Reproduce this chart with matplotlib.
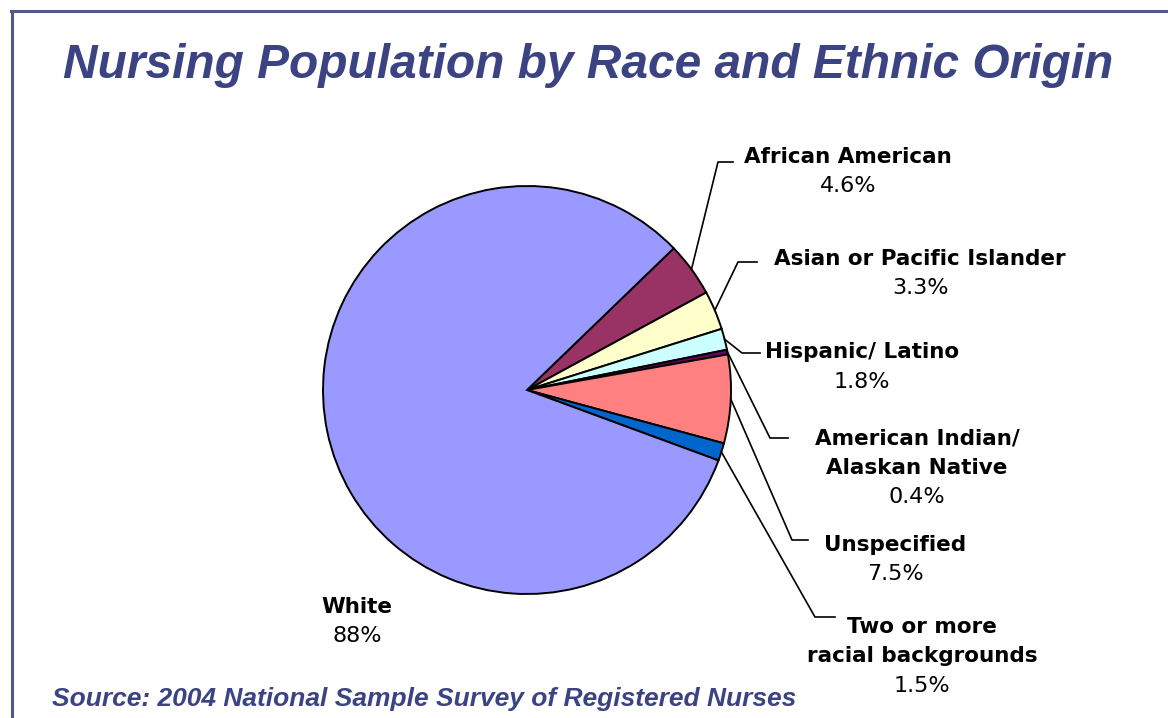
import numpy as np
import matplotlib
matplotlib.use("Agg")
import matplotlib.pyplot as plt
from matplotlib.lines import Line2D

# slices, clockwise from the top of the African American wedge
groups = ["African American", "Asian or Pacific Islander", "Hispanic/ Latino",
          "American Indian/\nAlaskan Native", "Unspecified",
          "Two or more\nracial backgrounds", "White"]
shares = [4.6, 3.3, 1.8, 0.4, 7.5, 1.5, 88]
share_text = ["4.6%", "3.3%", "1.8%", "0.4%", "7.5%", "1.5%", "88%"]
colors = ["#993366", "#FFFFCC", "#CCFFFF", "#660066", "#FF8080", "#0066CC", "#9999FF"]

W, H = 1168, 718
fig = plt.figure(figsize=(W / 100, H / 100), dpi=100)
fig.patch.set_facecolor("white")

# one axes over the whole canvas, units = pixels (y up)
ax = fig.add_axes([0, 0, 1, 1])
cx, cy, r = 527, H - 390, 204
wedges, _ = ax.pie(shares, colors=colors, startangle=44, counterclock=False,
                   center=(cx, cy), radius=r, frame=True,
                   wedgeprops=dict(edgecolor="black", linewidth=1.4))
ax.set_xlim(0, W)
ax.set_ylim(0, H)
ax.set_aspect("equal")
ax.axis("off")

# label anchor (text centre of first line), elbow point, end of leader
label_xy = [(848, 157), (920, 259), (862, 352), (917, 438), (895, 545), (922, 627), (357, 607)]
elbows = [(718, 162), (738, 262), (742, 353), (770, 438), (792, 540), (815, 617), None]
ends = [(733, 162), (757, 262), (760, 353), (788, 438), (808, 540), (835, 617), None]

name_font = dict(family="DejaVu Sans", weight="bold", size=15.5, color="black")
pct_font = dict(family="DejaVu Sans", weight="normal", size=16, color="black")
line_gap = 29.5

for w, name, pct, lxy, el, en in zip(wedges, groups, share_text, label_xy, elbows, ends):
    mid = np.deg2rad((w.theta1 + w.theta2) / 2)
    if el is not None:
        sx = cx + r * np.cos(mid)
        sy = cy + r * np.sin(mid)
        ax.add_line(Line2D([sx, el[0], en[0]], [sy, H - el[1], H - en[1]],
                           color="black", linewidth=1.2))
    rows = name.split("\n")
    for k, t in enumerate(rows):
        ax.text(lxy[0], H - lxy[1] - k * line_gap, t, ha="center", va="center", **name_font)
    ax.text(lxy[0], H - lxy[1] - len(rows) * line_gap, pct, ha="center", va="center", **pct_font)

title_col = "#3B4383"
fig.text(588 / W, 1 - 65 / H, "Nursing Population by Race and Ethnic Origin",
         ha="center", va="center", fontsize=34.5, fontweight="bold", fontstyle="italic",
         family="Liberation Sans", color=title_col)
fig.text(52 / W, 1 - 699 / H, "Source: 2004 National Sample Survey of Registered Nurses",
         ha="left", va="center", fontsize=19, fontweight="bold", fontstyle="italic",
         family="Liberation Sans", color=title_col)

# slide frame on top and left
frame_col = "#505A87"
fig.add_artist(Line2D([11 / W, 1], [1 - 10.5 / H, 1 - 10.5 / H], color=frame_col,
                      linewidth=2.2, transform=fig.transFigure))
fig.add_artist(Line2D([12 / W, 12 / W], [0, 1 - 10.5 / H], color=frame_col,
                      linewidth=2.2, transform=fig.transFigure))

fig.savefig("out.png", dpi=100)
